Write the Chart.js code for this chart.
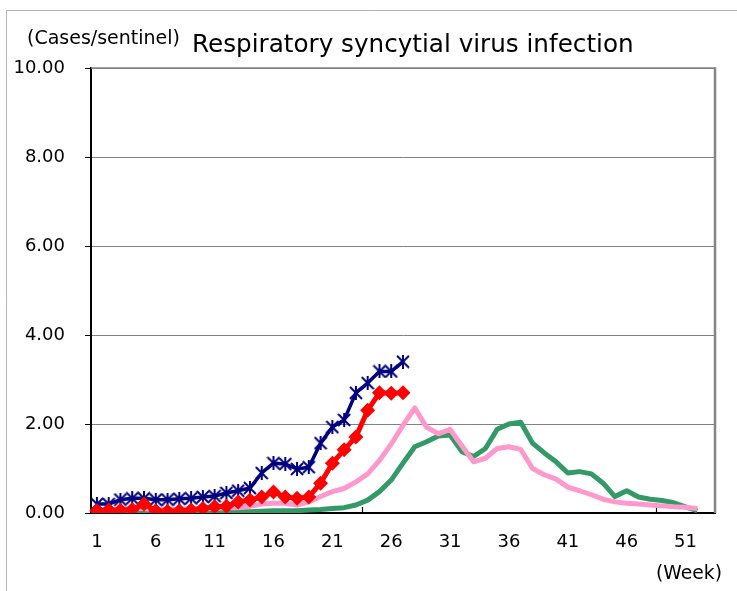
<!DOCTYPE html>
<html>
<head>
<meta charset="utf-8">
<script src="https://cdn.jsdelivr.net/npm/chart.js@4"></script>
<style>
  html, body { margin: 0; padding: 0; background: #ffffff; }
  #wrap { width: 737px; height: 591px; position: relative; }
  canvas { display: block; }
</style>
</head>
<body>
<div id="wrap"><canvas id="c" width="737" height="591"></canvas></div>
<script>
// ---- data ----
const weeks = [1,2,3,4,5,6,7,8,9,10,11,12,13,14,15,16,17,18,19,20,21,22,23,24,25,26,27,28,29,30,31,32,33,34,35,36,37,38,39,40,41,42,43,44,45,46,47,48,49,50,51,52,53];

const seriesNavy = [0.20,0.20,0.30,0.33,0.33,0.30,0.30,0.32,0.33,0.36,0.38,0.45,0.50,0.56,0.90,1.12,1.10,0.99,1.03,1.57,1.93,2.09,2.70,2.92,3.18,3.18,3.40];

const seriesRed = [0.05,0.07,0.06,0.08,0.20,0.05,0.04,0.05,0.07,0.10,0.14,0.15,0.25,0.29,0.36,0.47,0.36,0.33,0.36,0.67,1.12,1.42,1.71,2.31,2.70,2.69,2.70];

const seriesPink = [0.08,0.08,0.08,0.10,0.10,0.08,0.08,0.08,0.10,0.10,0.10,0.12,0.12,0.15,0.20,0.22,0.22,0.18,0.25,0.37,0.48,0.55,0.70,0.88,1.18,1.55,1.97,2.36,1.93,1.78,1.88,1.51,1.15,1.23,1.45,1.49,1.43,1.00,0.86,0.76,0.58,0.50,0.41,0.31,0.25,0.22,0.20,0.18,0.16,0.14,0.13,0.10];

const seriesGreen = [0.02,0.02,0.02,0.02,0.02,0.02,0.02,0.02,0.02,0.02,0.02,0.02,0.03,0.03,0.04,0.05,0.05,0.05,0.07,0.08,0.10,0.12,0.18,0.29,0.48,0.74,1.12,1.49,1.60,1.73,1.75,1.38,1.27,1.45,1.88,2.00,2.04,1.57,1.35,1.15,0.90,0.93,0.88,0.67,0.37,0.50,0.36,0.31,0.28,0.23,0.14,0.05];

const yTicks = [0, 2, 4, 6, 8, 10];
const labelEvery = 5;

const titleText = "Respiratory syncytial virus infection";
const yUnitText = "(Cases/sentinel)";
const xUnitText = "(Week)";

// ---- styling ----
const FONT = "'DejaVu Sans', sans-serif";

// Excel-like "star" marker: an X with a vertical bar
function makeStarMarker(size, color, lw) {
  const c = document.createElement('canvas');
  c.width = size; c.height = size;
  const g = c.getContext('2d');
  g.strokeStyle = color;
  g.lineWidth = lw;
  g.lineCap = 'butt';
  const p = lw / 2;
  g.beginPath();
  g.moveTo(p, p); g.lineTo(size - p, size - p);
  g.moveTo(size - p, p); g.lineTo(p, size - p);
  g.moveTo(size / 2, 0); g.lineTo(size / 2, size);
  g.stroke();
  return c;
}
const navyMarker = makeStarMarker(14, '#000080', 2);

const decorPlugin = {
  id: 'decor',
  beforeDatasetsDraw(chart) {
    const ctx = chart.ctx;
    const a = chart.chartArea;
    const xs = chart.scales.x;
    ctx.save();
    ctx.strokeStyle = '#858585';
    ctx.lineWidth = 1.5;
    ctx.beginPath();
    ctx.moveTo(a.left, a.top);
    ctx.lineTo(a.right, a.top);
    ctx.stroke();
    ctx.lineWidth = 2.5;
    ctx.beginPath();
    ctx.moveTo(a.right, a.top - 0.75);
    ctx.lineTo(a.right, a.bottom);
    ctx.stroke();
    const half = (xs.getPixelForTick(1) - xs.getPixelForTick(0)) / 2;
    ctx.strokeStyle = '#000';
    ctx.lineWidth = 1.2;
    for (let i = labelEvery; i < weeks.length; i += labelEvery) {
      const px = Math.round(xs.getPixelForTick(i) - half) + 0.5;
      ctx.beginPath();
      ctx.moveTo(px, a.bottom);
      ctx.lineTo(px, a.bottom - 6);
      ctx.stroke();
    }
    ctx.restore();
  },
  afterDraw(chart) {
    const ctx = chart.ctx;
    ctx.save();
    ctx.strokeStyle = '#b4b4b4';
    ctx.lineWidth = 1;
    ctx.beginPath();
    ctx.moveTo(737, 10.5);
    ctx.lineTo(6.5, 10.5);
    ctx.lineTo(6.5, 591);
    ctx.stroke();
    ctx.fillStyle = '#000';
    ctx.textBaseline = 'alphabetic';
    ctx.textAlign = 'left';
    const fit = (text, w, base) => {
      ctx.font = base + 'px ' + FONT;
      const m = ctx.measureText(text).width;
      return base * w / m;
    };
    let s = fit(yUnitText, 153, 16);
    ctx.font = s + 'px ' + FONT;
    ctx.fillText(yUnitText, 27, 44);
    s = fit(titleText, 442, 24);
    ctx.font = s + 'px ' + FONT;
    ctx.fillText(titleText, 192, 52);
    s = fit(xUnitText, 66, 16);
    ctx.font = s + 'px ' + FONT;
    ctx.fillText(xUnitText, 656, 579);
    ctx.restore();
  }
};

new Chart(document.getElementById('c'), {
  type: 'line',
  data: {
    labels: weeks,
    datasets: [
      {
        label: 'current',
        data: seriesNavy,
        borderColor: '#000080',
        backgroundColor: '#000080',
        borderWidth: 3.5,
        pointStyle: navyMarker,
        pointRadius: 7,
        pointHoverRadius: 7,
        borderJoinStyle: 'round',
        tension: 0,
        order: 1
      },
      {
        label: 'previous',
        data: seriesRed,
        borderColor: '#ff0000',
        backgroundColor: '#ff0000',
        borderWidth: 5,
        pointStyle: 'rectRot',
        pointRadius: 7.5,
        pointBorderWidth: 0,
        pointBackgroundColor: '#ff0000',
        pointHoverRadius: 7.5,
        borderJoinStyle: 'round',
        tension: 0,
        order: 0
      },
      {
        label: 'two years ago',
        data: seriesPink,
        borderColor: '#ff99cc',
        borderWidth: 5,
        pointRadius: 0,
        pointHoverRadius: 0,
        borderJoinStyle: 'round',
        tension: 0,
        order: 2
      },
      {
        label: 'three years ago',
        data: seriesGreen,
        borderColor: '#339966',
        borderWidth: 5,
        pointRadius: 0,
        pointHoverRadius: 0,
        borderJoinStyle: 'round',
        tension: 0,
        order: 3
      }
    ]
  },
  options: {
    responsive: false,
    animation: false,
    devicePixelRatio: 1,
    events: [],
    layout: { padding: { left: 0, right: 22, top: 68, bottom: 0 } },
    plugins: {
      legend: { display: false },
      title: { display: false },
      tooltip: { enabled: false }
    },
    scales: {
      x: {
        type: 'category',
        offset: true,
        grid: { display: false, drawTicks: false },
        border: { display: true, color: '#000', width: 2 },
        ticks: {
          autoSkip: false,
          maxRotation: 0,
          minRotation: 0,
          padding: 19,
          color: '#000',
          font: { family: FONT, size: 18 },
          callback: function (val, idx) {
            return idx % labelEvery === 0 ? String(weeks[idx]) : null;
          }
        },
        afterFit(scale) { scale.height = 78; }
      },
      y: {
        min: 0,
        max: 10,
        afterBuildTicks(scale) { scale.ticks = yTicks.map(v => ({ value: v })); },
        grid: {
          color: '#808080',
          lineWidth: 1,
          drawTicks: true,
          tickLength: 6,
          tickColor: '#000'
        },
        border: { display: true, color: '#000', width: 2 },
        ticks: {
          padding: 20,
          color: '#000',
          font: { family: FONT, size: 18 },
          callback: v => Number(v).toFixed(2)
        },
        afterFit(scale) { scale.width = 91; }
      }
    }
  },
  plugins: [decorPlugin]
});
</script>
</body>
</html>
